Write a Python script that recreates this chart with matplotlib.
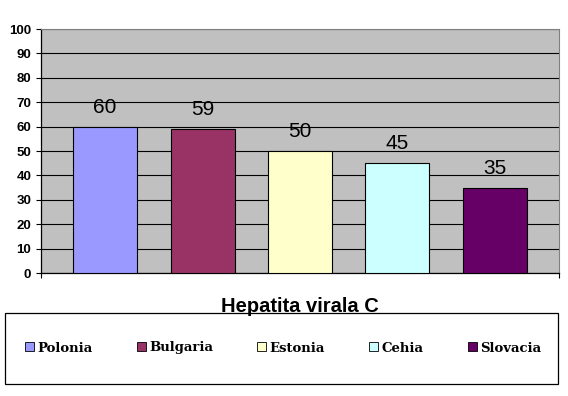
import matplotlib
matplotlib.use("Agg")
import matplotlib.pyplot as plt
from matplotlib.patches import Rectangle

# --- data ---
tari = ["Polonia", "Bulgaria", "Estonia", "Cehia", "Slovacia"]
valori = [60, 59, 50, 45, 35]
culori = ["#9999FF", "#993366", "#FFFFCC", "#CCFFFF", "#660066"]
y_ticks = [0, 10, 20, 30, 40, 50, 60, 70, 80, 90, 100]
titlu = "Hepatita virala C"

# fiecare tara e o serie separata (o singura categorie)
LATIME = 64 / 97.5

fig = plt.figure(figsize=(5.68, 3.96), dpi=100)
ax = fig.add_axes([41 / 568, 1 - 273 / 396, (559 - 41) / 568, (273 - 29) / 396])
ax.set_facecolor("#C0C0C0")

x = list(range(len(tari)))
bars = ax.bar(x, valori, width=LATIME, color=culori, edgecolor="black",
              linewidth=0.8, zorder=3)

ax.bar_label(bars, labels=[str(v) for v in valori], padding=7,
             fontsize=15, family="Liberation Sans")

ax.set_xlim(-LATIME, len(tari) - 1 + LATIME)
ax.set_ylim(0, 100)
ax.set_yticks(y_ticks)
ax.set_yticklabels([str(v) for v in y_ticks], fontsize=9.5,
                   fontweight="bold", family="Liberation Sans")
ax.set_xticks([-LATIME, len(tari) - 1 + LATIME])
ax.set_xticklabels([])
ax.tick_params(axis="y", direction="out", length=3.6, width=0.8, pad=3.5)
ax.tick_params(axis="x", direction="out", length=3.6, width=0.8)
ax.yaxis.grid(True, color="black", linewidth=0.8, zorder=1)
ax.set_axisbelow(True)

ax.spines["left"].set_color("black")
ax.spines["bottom"].set_color("black")
ax.spines["left"].set_linewidth(0.9)
ax.spines["bottom"].set_linewidth(0.9)
ax.spines["top"].set_color("#808080")
ax.spines["right"].set_color("#808080")

fig.text(0.528, 84.5 / 396, titlu, ha="center", va="baseline",
         fontsize=14.5, fontweight="bold", family="Liberation Sans")

# chenarul legendei
fig.patches.append(Rectangle((5 / 568, 12 / 396), 553 / 568, 71 / 396,
                             transform=fig.transFigure, fill=False,
                             edgecolor="black", linewidth=0.9))

leg = fig.legend(handles=list(bars), labels=tari, ncol=5,
                 bbox_to_anchor=(283 / 568, 48 / 396), loc="center",
                 frameon=False, handlelength=0.68, handleheight=0.68,
                 handletextpad=0.25, columnspacing=3.35, borderaxespad=0,
                 prop={"family": "DejaVu Serif", "weight": "bold", "size": 9.5})
for h in leg.legend_handles:
    h.set_linewidth(0.6)

fig.savefig("out.png", dpi=100)
